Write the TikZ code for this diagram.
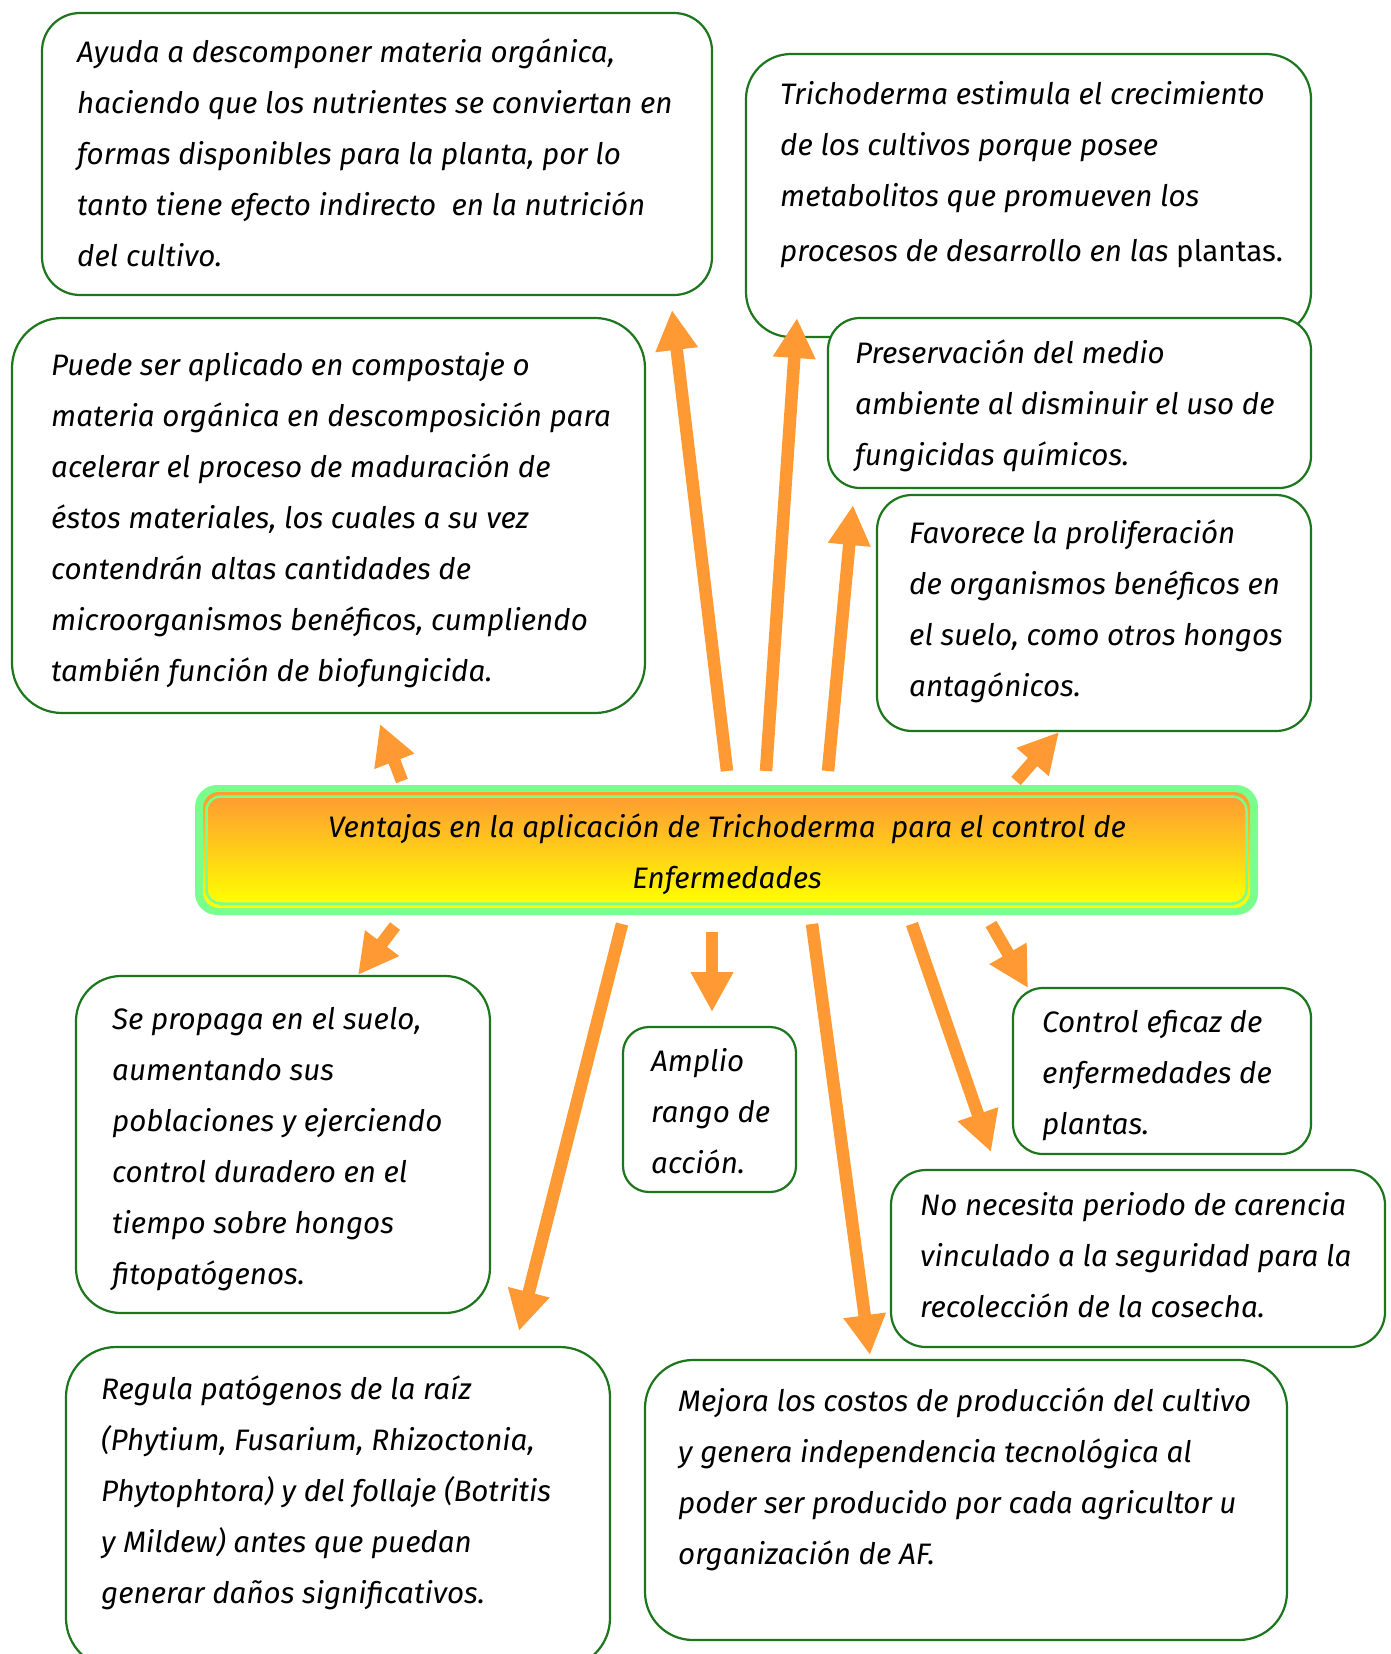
\documentclass[tikz,border=0pt]{standalone}
\usepackage{fontspec}
\setmainfont{Fira Sans}
\usetikzlibrary{arrows.meta}
\definecolor{boxgreen}{RGB}{28,118,28}
\definecolor{arroworange}{RGB}{255,153,51}
\definecolor{glowgreen}{RGB}{122,255,140}
\definecolor{toporange}{RGB}{255,156,50}
\definecolor{baseyellow}{RGB}{255,255,0}
\begin{document}
\begin{tikzpicture}[x=1pt,y=-1pt,
  card/.style={draw=boxgreen, line width=2.2pt, fill=white, rectangle, inner sep=0pt},
  txt/.style={anchor=north west, inner sep=0pt, align=left,
    font=\fontsize{29.6}{51}\selectfont\itshape},
  link/.style={draw=arroworange, line width=12.5pt,
    -{Triangle[width=40pt,length=40pt]}}
]
\useasboundingbox (0,0) rectangle (1390,1654);
\clip (0,0) rectangle (1390,1654);

% ---------- upper boxes ----------
\node[card, rounded corners=38pt, minimum width=670pt, minimum height=282pt] (b1) at (377,154) {};
\node[txt] (t1) at (77,27) {\strut Ayuda a descomponer materia orgánica,\\
haciendo que los nutrientes se conviertan en\\
formas disponibles para la planta, por lo\\
tanto tiene efecto indirecto~ en la nutrición\\
del cultivo.};

\node[card, rounded corners=50pt, minimum width=633pt, minimum height=395pt] (b2) at (328.5,515.5) {};
\node[txt] (t2) at (51,340) {\strut Puede ser aplicado en compostaje o\\
materia orgánica en descomposición para\\
acelerar el proceso de maduración de\\
éstos materiales, los cuales a su vez\\
contendrán altas cantidades de\\
microorganismos benéficos, cumpliendo\\
también función de biofungicida.};

\node[card, rounded corners=45pt, minimum width=565pt, minimum height=283pt] (b3) at (1028.5,195.5) {};
\node[txt] (t3) at (780,69) {\strut Trichoderma estimula el crecimiento\\
de los cultivos porque posee\\
metabolitos que promueven los\\[4pt]
procesos de desarrollo en las {\upshape plantas.}};

\node[card, rounded corners=32pt, minimum width=483pt, minimum height=170pt] (b4) at (1069.5,403) {};
\node[txt] (t4) at (855,328) {\strut Preservación del medio\\
ambiente al disminuir el uso de\\
fungicidas químicos.};

\node[card, rounded corners=35pt, minimum width=434pt, minimum height=236pt] (b5) at (1094,613) {};
\node[txt] (t5) at (909,508) {\strut Favorece la proliferación\\
de organismos benéficos en\\
el suelo, como otros hongos\\
antagónicos.};

% ---------- central title ----------
\node[fill=glowgreen, rounded corners=22pt, rectangle, inner sep=0pt,
  minimum width=1063pt, minimum height=130pt] (c) at (726.5,850) {};
\shade[top color=toporange, bottom color=baseyellow, rounded corners=16pt]
  (203,792) rectangle (1250,908);
\draw[glowgreen, line width=2.5pt, top color=toporange, bottom color=baseyellow, rounded corners=14pt]
  (206.5,796.5) rectangle (1246.5,903.5);
\node[anchor=north, inner sep=0pt, align=center,
  font=\fontsize{29.6}{51}\selectfont\itshape] (title) at (727,802)
  {\strut Ventajas en la aplicación de Trichoderma~ para el control de\\ Enfermedades};

% ---------- lower boxes ----------
\node[card, rounded corners=45pt, minimum width=414pt, minimum height=337pt] (b7) at (283,1144.5) {};
\node[txt] (t7) at (112,994) {\strut Se propaga en el suelo,\\
aumentando sus\\
poblaciones y ejerciendo\\
control duradero en el\\
tiempo sobre hongos\\
fitopatógenos.};

\node[card, rounded corners=26pt, minimum width=173pt, minimum height=165pt] (b8) at (709.5,1109.5) {};
\node[txt] (t8) at (651,1036) {\strut Amplio\\ rango de\\ acción.};

\node[card, rounded corners=30pt, minimum width=298pt, minimum height=166pt] (b9) at (1162,1071) {};
\node[txt] (t9) at (1042,997) {\strut Control eficaz de\\ enfermedades de\\ plantas.};

\node[card, rounded corners=35pt, minimum width=494pt, minimum height=177pt] (b10) at (1138,1258.5) {};
\node[txt] (t10) at (920,1180) {\strut No necesita periodo de carencia\\
vinculado a la seguridad para la\\
recolección de la cosecha.};

\node[card, rounded corners=50pt, minimum width=544pt, minimum height=321pt] (b11) at (338,1507.5) {};
\node[txt] (t11) at (101,1364) {\strut Regula patógenos de la raíz\\
(Phytium, Fusarium, Rhizoctonia,\\
Phytophtora) y del follaje (Botritis\\
y Mildew) antes que puedan\\
generar daños significativos.};

\node[card, rounded corners=48pt, minimum width=642pt, minimum height=280pt] (b12) at (966,1500) {};
\node[txt] (t12) at (678,1376) {\strut Mejora los costos de producción del cultivo\\
y genera independencia tecnológica al\\
poder ser producido por cada agricultor u\\
organización de AF.};

% ---------- arrow end points ----------
\coordinate (a1s) at (727,771);  \coordinate (a1e) at (672,310);
\coordinate (a2s) at (766,771);  \coordinate (a2e) at (797,318);
\coordinate (a3s) at (828,771);  \coordinate (a3e) at (853,505);
\coordinate (a4s) at (402,781);  \coordinate (a4e) at (380,724);
\coordinate (a5s) at (1016,781); \coordinate (a5e) at (1059,732);
\coordinate (a6s) at (395,926);  \coordinate (a6e) at (358,975);
\coordinate (a7s) at (622,924);  \coordinate (a7e) at (519,1331);
\coordinate (a8s) at (712,932);  \coordinate (a8e) at (712,1012);
\coordinate (a9s) at (812,924);  \coordinate (a9e) at (870,1355);
\coordinate (a10s) at (912,924); \coordinate (a10e) at (991,1152);
\coordinate (a11s) at (991,924); \coordinate (a11e) at (1028,988);

% ---------- arrows ----------
\foreach \k in {1,...,11}{
  \draw[link] (a\k s) -- (a\k e);
}
\end{tikzpicture}
\end{document}
